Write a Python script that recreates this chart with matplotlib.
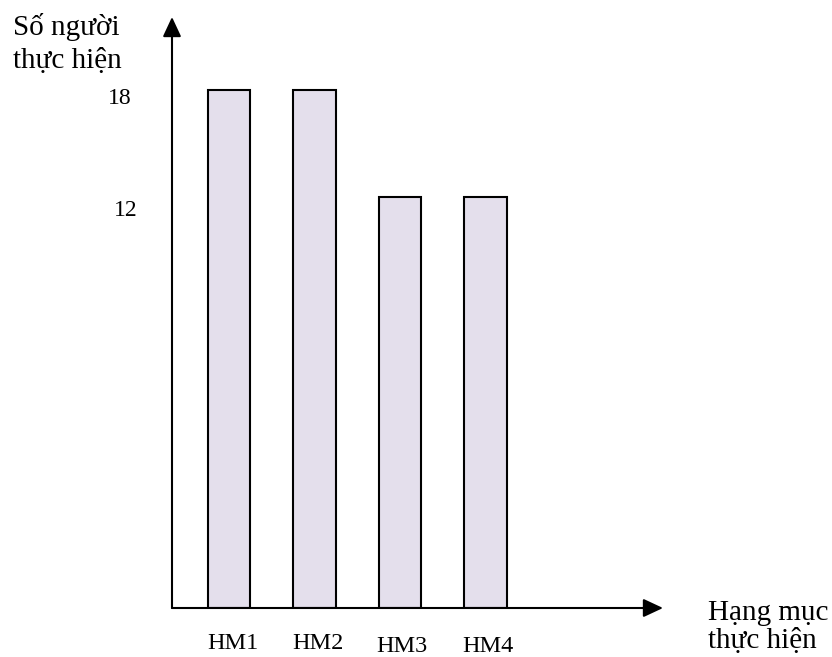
import numpy as np
import matplotlib.pyplot as plt
import matplotlib.transforms as mtransforms

plt.rcParams['font.family'] = ['Liberation Serif', 'DejaVu Serif']

categories = ['HM1', 'HM2', 'HM3', 'HM4']
values = [18, 18, 12, 12]
tick_values = [18, 12]
y_title = ['Số người', 'thực hiện']
x_title = ['Hạng mục', 'thực hiện']

# the drawing is not to scale: 12 sits higher than a linear axis would put it
anchor_vals = [0, 12, 18, 40]
anchor_px = [0, 411, 518, 518 + 22 * 28.8]

def forward(v):
    return np.interp(v, anchor_vals, anchor_px)

def inverse(p):
    return np.interp(p, anchor_px, anchor_vals)

W, H = 832, 657
fig = plt.figure(figsize=(W / 100, H / 100), dpi=100)
ax = fig.add_axes([172 / W, 49 / H, 491 / W, 591 / H])
ax.set_yscale('function', functions=(forward, inverse))

x = np.arange(len(categories))
ax.bar(x, values, width=0.5, color='#e4dfec', edgecolor='black', linewidth=1.5, zorder=2)

ax.set_xlim(-0.667, 5.076)
ax.set_ylim(0, inverse(591))

for s in ax.spines.values():
    s.set_visible(False)
ax.set_yticks([])
ax.set_xticks(x)
ax.set_xticklabels(categories, fontsize=17.5)
ax.tick_params(axis='x', length=0, pad=18)

# labels sit a little right of the bar centres, HM3/HM4 a bit lower
label_shift = [(4, 0), (3, 0), (2, -3), (2, -3)]
for lab, (dx, dy) in zip(ax.get_xticklabels(), label_shift):
    lab.set_transform(lab.get_transform() + mtransforms.Affine2D().translate(dx, dy))

# axes with arrow heads
arrow = dict(arrowstyle='-|>,head_length=0.6,head_width=0.28', color='black', lw=1.5,
             shrinkA=0, shrinkB=0, mutation_scale=20)
ax.annotate('', xy=(1, 0), xytext=(0, 0), xycoords='axes fraction', arrowprops=arrow, zorder=3)
ax.annotate('', xy=(0, 1), xytext=(0, 0), xycoords='axes fraction', arrowprops=arrow, zorder=3)

label_offsets = [(-40, -8), (-34, -13)]
for v, off in zip(tick_values, label_offsets):
    ax.annotate(str(v), xy=(0, v), xycoords=ax.get_yaxis_transform(),
                xytext=off, textcoords='offset pixels',
                ha='right', va='center', fontsize=17)

for line, yb in zip(y_title, [35, 68]):
    fig.text(13 / W, 1 - yb / H, line, ha='left', va='baseline', fontsize=21)
for line, yb in zip(x_title, [620, 648]):
    fig.text(708 / W, 1 - yb / H, line, ha='left', va='baseline', fontsize=21)

fig.savefig('out.png', dpi=100)
